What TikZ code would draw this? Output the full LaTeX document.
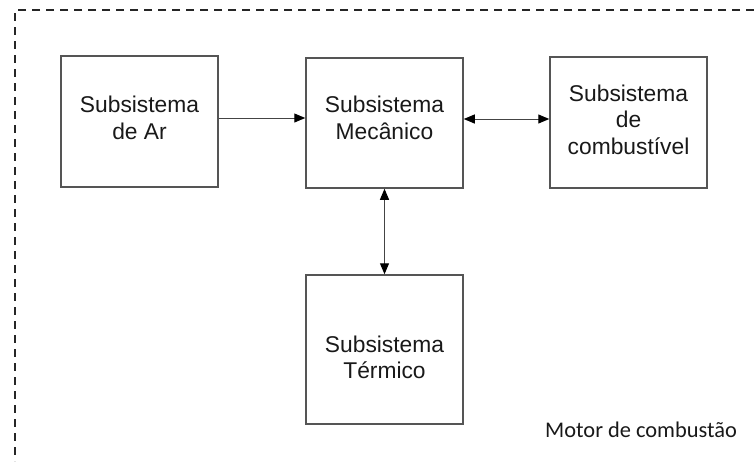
\documentclass[tikz,border=0pt]{standalone}
\usepackage{fontspec}
\setmainfont{Liberation Sans}
\newfontfamily\calibfont{Carlito}
\usetikzlibrary{arrows.meta}
\definecolor{boxline}{HTML}{555555}
\definecolor{arrline}{HTML}{444444}
\tikzset{
  sysbox/.style={draw=boxline, line width=1.5pt, minimum width=157pt},
  boxtext/.style={align=center, font=\fontsize{22.8}{26.5}\selectfont, text=black!90},
  conn/.style={draw=arrline, line width=1pt},
  tip/.tip={Triangle[length=11pt,width=9pt,color=black]},
  frame/.style={line width=2pt, black!85, dash pattern=on 8pt off 6pt}
}
\begin{document}
\begin{tikzpicture}[x=1pt,y=-1pt]
\useasboundingbox (0,0) rectangle (754,461);
\draw[frame] (754,10) -- (15,10) -- (15,461);
\node[sysbox, minimum height=131pt] (b1) at (139.5,121.5) {};
\node[sysbox, minimum height=130pt] (b2) at (384.5,123) {};
\node[sysbox, minimum height=131pt] (b3) at (628.5,122.5) {};
\node[sysbox, minimum height=149pt] (b4) at (384.5,349.5) {};
\node[boxtext] (t1) at ([yshift=3.5pt]b1.center) {Subsistema\\de Ar};
\node[boxtext] (t2) at ([yshift=5pt]b2.center) {Subsistema\\Mecânico};
\node[boxtext] (t3) at ([yshift=3pt]b3.center) {Subsistema\\de\\combustível};
\node[boxtext] (t4) at ([yshift=-8pt]b4.center) {Subsistema\\Térmico};
\coordinate (r1) at (0,118);
\coordinate (r2) at (0,119);
\draw[conn, -tip] (b1.east |- r1) -- (b2.west |- r1);
\draw[conn, tip-tip] (b2.east |- r2) -- (b3.west |- r2);
\draw[conn, tip-tip] (b2.south) -- (b4.north);
\node[anchor=base west, inner sep=0pt, font=\calibfont\fontsize{22.4}{26}\selectfont, text=black!90] (lbl) at (545,437) {Motor de combustão};
\end{tikzpicture}
\end{document}
